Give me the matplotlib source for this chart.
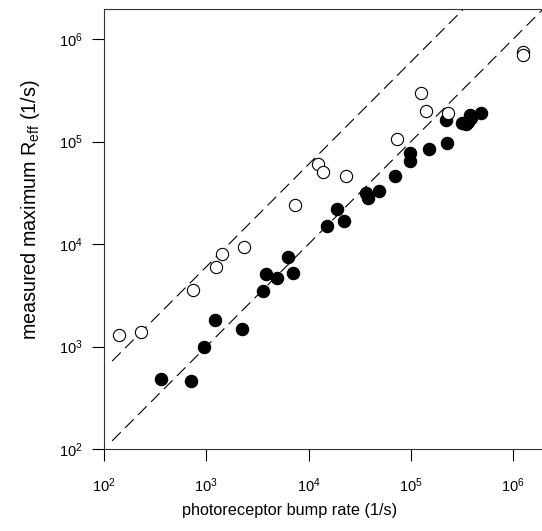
import matplotlib
matplotlib.use("Agg")
import matplotlib.pyplot as plt
import numpy as np

plt.rcParams['font.family'] = ['Liberation Sans', 'DejaVu Sans']
plt.rcParams['mathtext.fontset'] = 'custom'
plt.rcParams['mathtext.rm'] = 'Liberation Sans'
plt.rcParams['mathtext.it'] = 'Liberation Sans:italic'
plt.rcParams['mathtext.bf'] = 'Liberation Sans:bold'

# open circles
open_x = [140, 232, 736, 1245, 1416, 2339, 7362, 12450, 13930, 23230,
          73650, 125600, 140600, 232300, 1256000, 1256000]
open_y = [1294, 1393, 3557, 6012, 8037, 9356, 23990, 60260, 50100, 46380,
          105000, 299200, 199600, 188200, 751600, 698000]

# filled circles
filled_x = [358, 705, 955, 1225, 2233, 3607, 3835, 4878, 6223, 6995,
            15140, 19150, 22170, 35970, 37670, 48220, 70280, 98030, 98030,
            150300, 222800, 217700, 314000, 364100, 378400, 384000, 481000, 345000]
filled_y = [482, 464, 995, 1803, 1493, 3499, 5058, 4624, 7516, 5176,
            14990, 21930, 16750, 31270, 27920, 33110, 46030, 77850, 64560,
            84530, 97330, 162300, 150600, 155000, 181600, 168200, 191900, 148000]

# reference lines y = factor * x
line_x = [120, 3.0e6]
line_factors = [1.0, 6.0]

xlim = (1e2, 10 ** 6.281)
ylim = (1e2, 10 ** 6.293)

fig = plt.figure(figsize=(5.42, 5.31), dpi=100)
ax = fig.add_axes([104 / 542, 82 / 531, 438 / 542, 440 / 531])

lx = np.array(line_x)
for f in line_factors:
    ax.plot(lx, f * lx, color='black', lw=0.8, ls=(0, (11, 5.5)), zorder=1)

ax.plot(filled_x, filled_y, 'o', ms=8.9, mfc='black', mec='black', mew=0.8,
        ls='none', zorder=2)
ax.plot(open_x, open_y, 'o', ms=8.8, mfc='white', mec='black', mew=0.8,
        ls='none', zorder=3)

ax.set_xscale('log')
ax.set_yscale('log')
ax.set_xlim(*xlim)
ax.set_ylim(*ylim)

ticks = [1e2, 1e3, 1e4, 1e5, 1e6]
ax.set_xticks(ticks)
ax.set_yticks(ticks)
ax.minorticks_off()
lbls = [r'$\mathregular{10^{%d}}$' % int(np.log10(t)) for t in ticks]
ax.set_xticklabels(lbls)
ax.set_yticklabels(lbls)

ax.tick_params(axis='both', which='major', direction='out', length=8.6,
               width=0.8, colors='black', labelsize=10.5)
ax.tick_params(axis='x', pad=11)
ax.tick_params(axis='y', pad=7)

for s in ['left', 'bottom', 'top']:
    ax.spines[s].set_linewidth(0.8)
    ax.spines[s].set_color('#333333')
ax.spines['right'].set_visible(False)

ax.set_xlabel('photoreceptor bump rate (1/s)', fontsize=11.7)
ax.xaxis.set_label_coords((290 - 104) / 438, (449 - 511) / 440)
ax.xaxis.label.set_va('center')
ax.set_ylabel(r'measured maximum R$_{\mathregular{eff}}$ (1/s)', fontsize=14.2)
ax.yaxis.set_label_coords((31 - 104) / 438, (449 - 210) / 440)
ax.yaxis.label.set_va('center')

fig.savefig('out.png', dpi=100)
